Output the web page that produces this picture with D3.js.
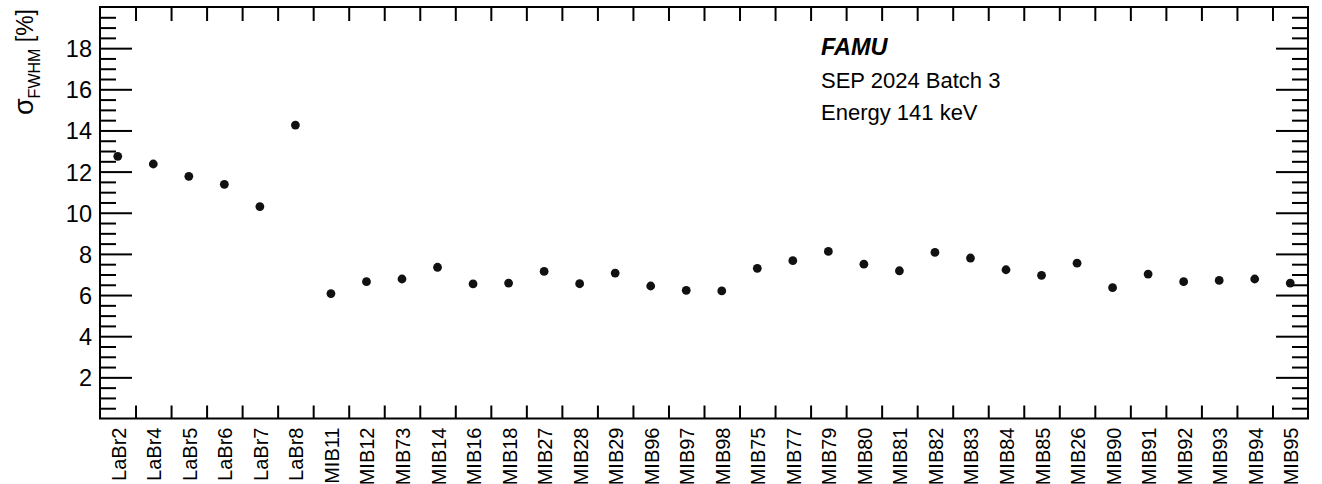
<!DOCTYPE html>
<html>
<head>
<meta charset="utf-8">
<script src="https://cdn.jsdelivr.net/npm/d3@7"></script>
<style>
  body { margin: 0; background: #fff; }
  svg { display: block; }
  text { font-family: "Liberation Sans", Arial, Helvetica, sans-serif; fill: #000; }
</style>
</head>
<body>
<div id="chart"></div>
<script>
// channel names along x
const channels = ['LaBr2', 'LaBr4', 'LaBr5', 'LaBr6', 'LaBr7', 'LaBr8',
  'MIB11', 'MIB12', 'MIB73', 'MIB14', 'MIB16', 'MIB18', 'MIB27', 'MIB28', 'MIB29',
  'MIB96', 'MIB97', 'MIB98', 'MIB75', 'MIB77', 'MIB79', 'MIB80', 'MIB81', 'MIB82',
  'MIB83', 'MIB84', 'MIB85', 'MIB26', 'MIB90', 'MIB91', 'MIB92', 'MIB93', 'MIB94', 'MIB95']
// sigma FWHM in percent
const sigmaFwhm = [12.74, 12.37, 11.77, 11.38, 10.30, 14.26,
  6.07, 6.65, 6.78, 7.35, 6.54, 6.58, 7.15, 6.55, 7.07,
  6.44, 6.23, 6.20, 7.30, 7.67, 8.12, 7.50, 7.18, 8.07,
  7.80, 7.23, 6.96, 7.55, 6.36, 7.02, 6.65, 6.71, 6.78, 6.58]
const yMajorTicks = [2, 4, 6, 8, 10, 12, 14, 16, 18]
const infoLines = ['FAMU', 'SEP 2024 Batch 3', 'Energy 141 keV']

const W = 1322, H = 484
const frame = {left: 100, right: 1308, top: 7, bottom: 418.5}

const svg = d3.select('#chart').append('svg')
  .attr('width', W).attr('height', H)

const x = d3.scaleBand().domain(channels)
  .range([frame.left, frame.right]).padding(0)
const xEdges = d3.scaleLinear().domain([0, channels.length])
  .range([frame.left, frame.right])
const y = d3.scaleLinear().domain([0, 20]).range([frame.bottom, frame.top])

const minorTicks = d3.range(0.5, 20, 0.5).filter(v => v % 2 !== 0)
const edgeTicks = d3.range(1, channels.length)

function styleTicks(g) {
  g.select('.domain').remove()
  g.selectAll('.tick line').attr('stroke', '#000').attr('stroke-width', 2)
}

// left axis: major with labels, minor without
svg.append('g')
  .attr('transform', `translate(${frame.left},0)`)
  .call(d3.axisLeft(y).tickValues(yMajorTicks).tickSizeInner(-32).tickSizeOuter(0))
  .call(styleTicks)
  .call(g => g.selectAll('text')
    .attr('x', -8).attr('dy', '0.36em')
    .style('font-size', '23.5px')
    .style('font-family', '"Liberation Sans", Arial, sans-serif'))
svg.append('g')
  .attr('transform', `translate(${frame.left},0)`)
  .call(d3.axisLeft(y).tickValues(minorTicks).tickSize(-16).tickFormat(''))
  .call(styleTicks)

// right axis
svg.append('g')
  .attr('transform', `translate(${frame.right},0)`)
  .call(d3.axisRight(y).tickValues(yMajorTicks).tickSize(-32).tickFormat(''))
  .call(styleTicks)
svg.append('g')
  .attr('transform', `translate(${frame.right},0)`)
  .call(d3.axisRight(y).tickValues(minorTicks).tickSize(-16).tickFormat(''))
  .call(styleTicks)

// bottom and top bin-edge ticks
svg.append('g')
  .attr('transform', `translate(0,${frame.bottom})`)
  .call(d3.axisBottom(xEdges).tickValues(edgeTicks).tickSize(-13).tickFormat(''))
  .call(styleTicks)
svg.append('g')
  .attr('transform', `translate(0,${frame.top})`)
  .call(d3.axisTop(xEdges).tickValues(edgeTicks).tickSize(-14).tickFormat(''))
  .call(styleTicks)

// channel labels, rotated
svg.append('g')
  .attr('transform', `translate(0,${frame.bottom})`)
  .call(d3.axisBottom(x).tickSize(0).tickPadding(0))
  .call(g => g.select('.domain').remove())
  .call(g => g.selectAll('text')
    .attr('transform', 'translate(8,9) rotate(-90)')
    .attr('x', 0).attr('y', 0).attr('dy', 0)
    .attr('text-anchor', 'end')
    .style('font-size', '20px')
    .style('font-family', '"Liberation Sans", Arial, sans-serif'))

// frame
svg.append('rect')
  .attr('x', frame.left).attr('y', frame.top)
  .attr('width', frame.right - frame.left)
  .attr('height', frame.bottom - frame.top)
  .attr('fill', 'none').attr('stroke', '#000').attr('stroke-width', 2)

// data points
svg.append('g').selectAll('circle')
  .data(channels)
  .join('circle')
  .attr('cx', d => x(d) + x.bandwidth() / 2)
  .attr('cy', (d, i) => y(sigmaFwhm[i]))
  .attr('r', 4.4)
  .attr('fill', '#111')

// y title
const ytitle = svg.append('text')
  .attr('transform', `translate(33,${frame.top + 2}) rotate(-90)`)
  .attr('text-anchor', 'end')
  .style('font-size', '23px')
ytitle.append('tspan').style('font-size', '27px').text('σ')
ytitle.append('tspan').attr('dy', 7).style('font-size', '16px').text('FWHM')
ytitle.append('tspan').attr('dy', -7).text(' [%]')

// info text
svg.append('g').selectAll('text')
  .data(infoLines)
  .join('text')
  .attr('x', 821)
  .attr('y', (d, i) => 55 + i * 32.5)
  .style('font-size', (d, i) => i === 0 ? '23.5px' : '22px')
  .style('font-weight', (d, i) => i === 0 ? 'bold' : 'normal')
  .style('font-style', (d, i) => i === 0 ? 'italic' : 'normal')
  .text(d => d)
</script>
</body>
</html>
